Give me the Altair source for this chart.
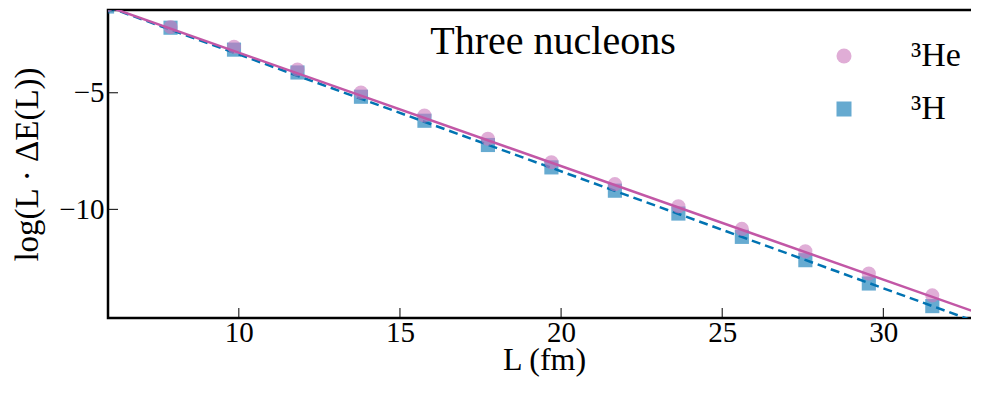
import altair as alt
import pandas as pd

# Data
L_vals = [5.91, 7.88, 9.85, 11.82, 13.79, 15.76, 17.73, 19.70, 21.67, 23.64, 25.61, 27.58, 29.55, 31.52]
he_vals = [-1.25, -2.18, -3.03, -4.00, -4.99, -5.98, -6.97, -7.98, -8.92, -9.87, -10.84, -11.80, -12.75, -13.69]
h_vals = [-1.30, -2.21, -3.15, -4.13, -5.17, -6.20, -7.24, -8.20, -9.20, -10.18, -11.18, -12.18, -13.18, -14.15]

fit_L = [5.5, 34.0]
he_fit = [-1.09, -14.96]
h_fit = [-1.10, -15.39]

series = ["³He", "³H"]
marker_colors = ["#CC78BC", "#0173B2"]
line_colors = ["#C257A6", "#0173B2"]
shapes = ["circle", "square"]

x_ticks = [10, 15, 20, 25, 30]
y_ticks = [-5, -10]
x_domain = [5.94, 33.0]
y_domain = [-14.66, -1.45]

W, H = 872, 308
FONT = "Liberation Serif"

pts = pd.DataFrame(
    {"L": L_vals * 2, "v": he_vals + h_vals,
     "s": [series[0]] * len(L_vals) + [series[1]] * len(L_vals),
     "order": [1] * len(L_vals) + [0] * len(L_vals)}
)
fits = pd.DataFrame(
    {"L": fit_L * 2, "v": he_fit + h_fit,
     "s": [series[0]] * 2 + [series[1]] * 2}
)

xs = alt.Scale(domain=x_domain, nice=False, zero=False)
ys = alt.Scale(domain=y_domain, nice=False, zero=False)

x_enc = alt.X("L:Q", scale=xs, title="L (fm)",
              axis=alt.Axis(values=x_ticks, grid=False, domain=False, ticks=False,
                            labelPadding=0, labelFontSize=29, titleFontSize=32,
                            titlePadding=-3, labelFont=FONT, titleFont=FONT,
                            labelColor="black", titleColor="black", titleFontWeight="normal"))
y_enc = alt.Y("v:Q", scale=ys, title="log(L · ΔE(L))",
              axis=alt.Axis(values=y_ticks, grid=False, domain=False, ticks=False,
                            labelPadding=4, labelFontSize=29, titleFontSize=33,
                            titlePadding=14, labelFont=FONT, titleFont=FONT,
                            labelColor="black", titleColor="black", titleFontWeight="normal"))

points = alt.Chart(pts).mark_point(
    filled=True, size=200, fillOpacity=0.6, strokeOpacity=0.7, strokeWidth=1, clip=True
).encode(
    x=x_enc, y=y_enc,
    color=alt.Color("s:N", scale=alt.Scale(domain=series, range=marker_colors),
                    legend=alt.Legend(title=None, orient="none", legendX=719, legendY=29,
                                      padding=0, labelFont=FONT, labelFontSize=34,
                                      labelColor="black", labelOffset=50, symbolSize=225,
                                      rowPadding=19, symbolOpacity=0.6, symbolStrokeWidth=1)),
    shape=alt.Shape("s:N", scale=alt.Scale(domain=series, range=shapes)),
    order=alt.Order("order:Q"),
)

line_he = alt.Chart(fits[fits.s == series[0]]).mark_line(
    strokeWidth=2.5, color=line_colors[0], clip=True
).encode(x=alt.X("L:Q", scale=xs), y=alt.Y("v:Q", scale=ys))

line_h = alt.Chart(fits[fits.s == series[1]]).mark_line(
    strokeWidth=2.5, color=line_colors[1], strokeDash=[9, 5], clip=True
).encode(x=alt.X("L:Q", scale=xs), y=alt.Y("v:Q", scale=ys))

xt = alt.Chart(pd.DataFrame({"t": x_ticks})).mark_rule(color="black", strokeWidth=1).encode(
    x=alt.X("t:Q", scale=xs), y=alt.value(H), y2=alt.value(H - 10))
yt = alt.Chart(pd.DataFrame({"t": y_ticks})).mark_rule(color="black", strokeWidth=1).encode(
    y=alt.Y("t:Q", scale=ys), x=alt.value(0), x2=alt.value(10))

label = alt.Chart(pd.DataFrame({"txt": ["Three nucleons"]})).mark_text(
    font=FONT, fontSize=40, color="black", align="center", baseline="middle"
).encode(text="txt:N", x=alt.value(445), y=alt.value(32))

chart = alt.layer(line_h, points, line_he, xt, yt, label).properties(
    width=W, height=H,
    autosize=alt.AutoSizeParams(type="none"),
    padding={"left": 100, "top": 2, "right": -9, "bottom": 68},
).configure(background="white").configure_view(stroke="black", strokeWidth=2.5)

chart.save("out.html", embed_options={"renderer": "svg", "actions": False})
